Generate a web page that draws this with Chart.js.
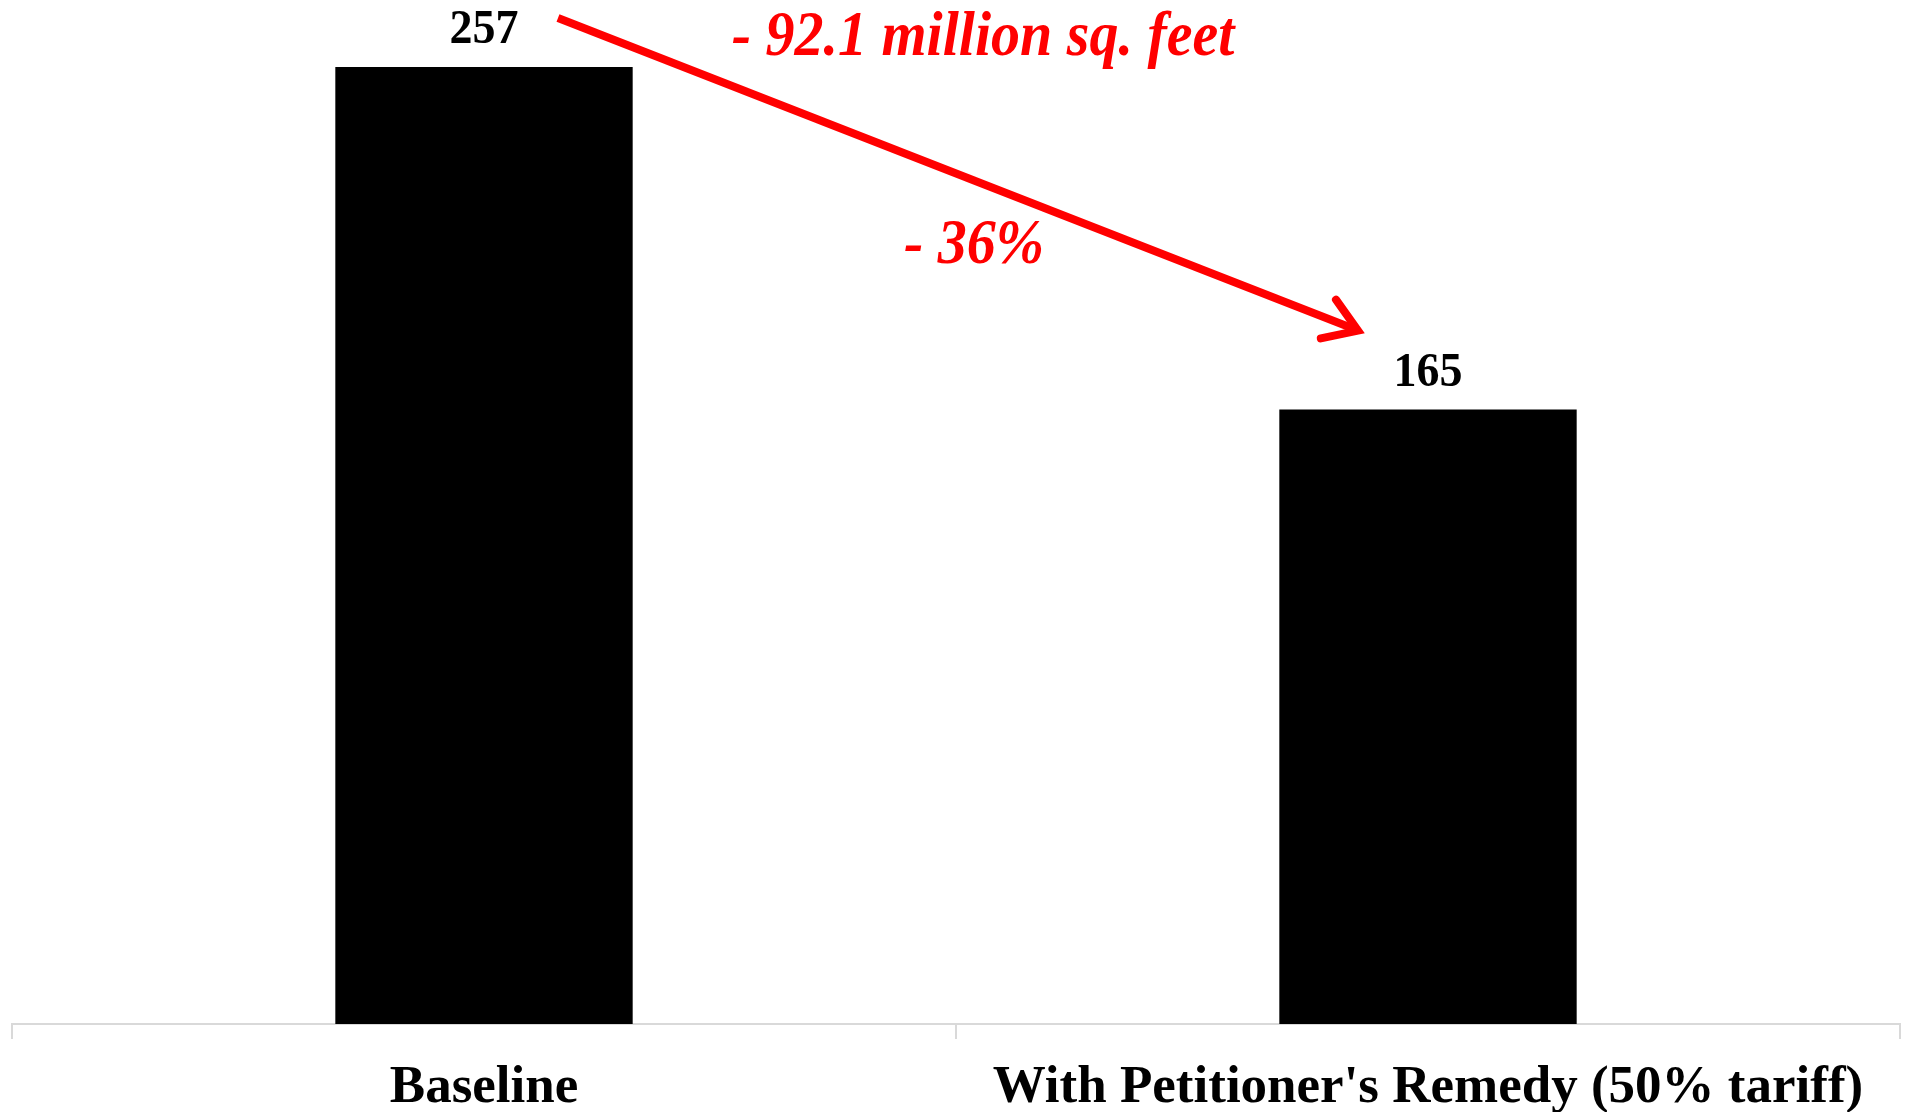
<!DOCTYPE html>
<html>
<head>
<meta charset="utf-8">
<style>
  html, body { margin: 0; padding: 0; background: #ffffff; }
  #wrap { width: 1908px; height: 1112px; position: relative; }
</style>
<script src="https://cdn.jsdelivr.net/npm/chart.js@4/dist/chart.umd.min.js"></script>
</head>
<body>
<div id="wrap"><canvas id="chart"></canvas></div>
<script>
// Categories and values (million sq. feet)
const categories = ["Baseline", "With Petitioner's Remedy (50% tariff)"];
const volumes = [257, 165];
const valueLabels = ["257", "165"];

// Change annotation texts
const changeTexts = ["- 92.1 million sq. feet", "- 36%"];

const SERIF = '"Liberation Serif", "Times New Roman", serif';

// Draws text slightly taller than wide, like the condensed serif lettering
function tallText(ctx, text, x, y, sy) {
  ctx.save();
  ctx.translate(x, y);
  ctx.scale(1, sy);
  ctx.fillText(text, 0, 0);
  ctx.restore();
}

// Value labels above each bar
const valueLabelPlugin = {
  id: 'valueLabels',
  afterDatasetsDraw(chart) {
    const ctx = chart.ctx;
    const meta = chart.getDatasetMeta(0);
    ctx.save();
    ctx.font = 'bold 46px ' + SERIF;
    ctx.fillStyle = '#000000';
    ctx.textAlign = 'center';
    ctx.textBaseline = 'alphabetic';
    meta.data.forEach((bar, i) => {
      tallText(ctx, valueLabels[i], bar.x, bar.y - 24, 1.06);
    });
    ctx.restore();
  }
};

// Red arrow from the first bar's label to the second, with change texts
const changeArrowPlugin = {
  id: 'changeArrow',
  afterDatasetsDraw(chart) {
    const ctx = chart.ctx;
    const meta = chart.getDatasetMeta(0);
    const b0 = meta.data[0], b1 = meta.data[1];
    const x0 = b0.x + 74, y0 = b0.y - 49;
    const x1 = b1.x - 70, y1 = b1.y - 79;
    ctx.save();
    ctx.strokeStyle = '#ff0000';
    ctx.lineWidth = 8;
    ctx.lineCap = 'butt';
    ctx.beginPath();
    ctx.moveTo(x0, y0);
    ctx.lineTo(x1 - 5, y1 - 2);
    ctx.stroke();

    // open arrow head
    const ang = Math.atan2(y1 - y0, x1 - x0);
    const headLen = 38;
    const spread = 0.58;
    ctx.lineCap = 'round';
    ctx.lineJoin = 'miter';
    ctx.beginPath();
    ctx.moveTo(x1 - headLen * Math.cos(ang - spread), y1 - headLen * Math.sin(ang - spread));
    ctx.lineTo(x1, y1);
    ctx.lineTo(x1 - headLen * Math.cos(ang + spread), y1 - headLen * Math.sin(ang + spread));
    ctx.stroke();

    ctx.fillStyle = '#ff0000';
    ctx.font = 'italic bold 58px ' + SERIF;
    ctx.textAlign = 'center';
    ctx.textBaseline = 'alphabetic';
    const mid = (b0.x + b1.x) / 2;
    tallText(ctx, changeTexts[0], mid + 27, 55, 1.08);
    tallText(ctx, changeTexts[1], mid + 18, 263, 1.08);
    ctx.restore();
  }
};

new Chart(document.getElementById('chart'), {
  type: 'bar',
  data: {
    labels: categories,
    datasets: [{
      data: volumes,
      backgroundColor: '#000000',
      borderWidth: 0,
      categoryPercentage: 1.0,
      barPercentage: 0.315
    }]
  },
  options: {
    responsive: true,
    maintainAspectRatio: false,
    animation: false,
    events: [],
    layout: { padding: { left: 12, right: 8, top: 0, bottom: 0 } },
    plugins: {
      legend: { display: false },
      tooltip: { enabled: false },
      title: { display: false }
    },
    scales: {
      x: {
        offset: true,
        grid: {
          display: true,
          offset: true,
          drawOnChartArea: false,
          drawTicks: true,
          tickLength: 15,
          color: '#d9d9d9',
          lineWidth: 2
        },
        border: { display: true, color: '#d9d9d9', width: 2 },
        ticks: {
          color: '#000000',
          font: { family: SERIF, size: 53, weight: 'bold' },
          maxRotation: 0,
          minRotation: 0,
          autoSkip: false,
          padding: 18
        },
        afterFit(scale) { scale.height = 88; }
      },
      y: {
        display: false,
        min: 0,
        max: 275
      }
    }
  },
  plugins: [valueLabelPlugin, changeArrowPlugin]
});
</script>
</body>
</html>
